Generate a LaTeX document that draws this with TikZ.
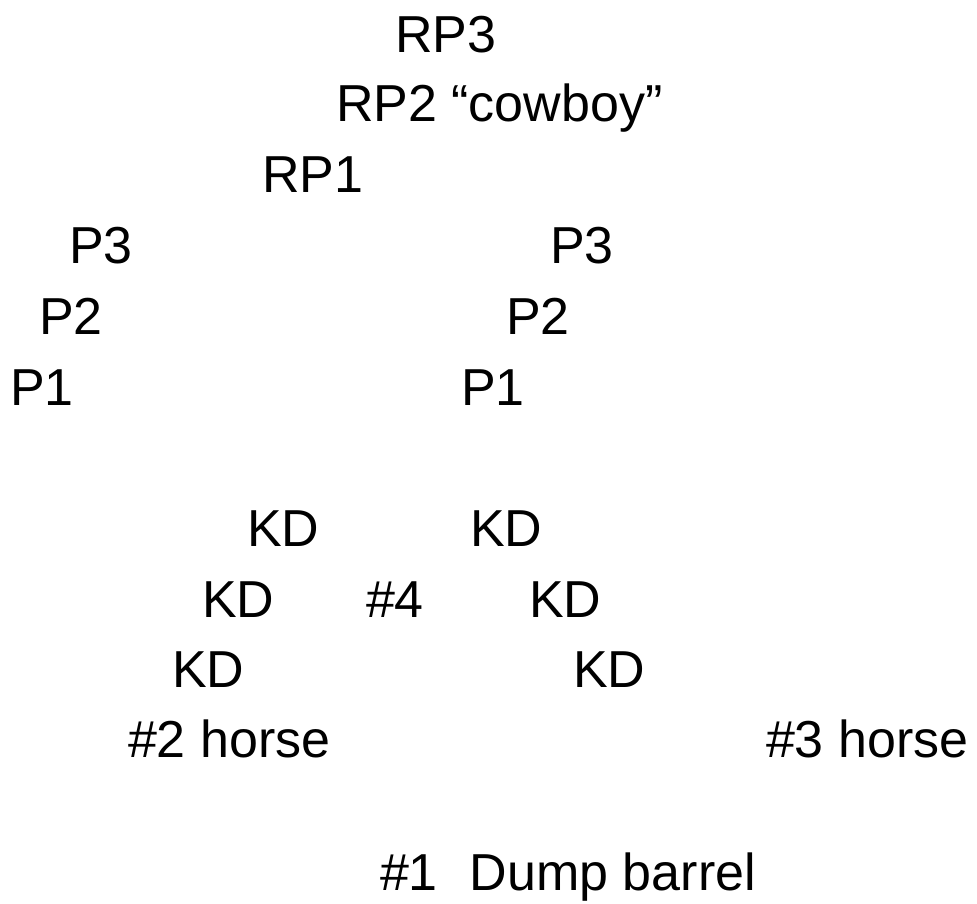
\documentclass[tikz,border=0pt]{standalone}
\usepackage{fontspec}
\setmainfont{Liberation Sans}
\begin{document}
\begin{tikzpicture}[x=1pt,y=-1pt,
  lbl/.style={anchor=base west,inner sep=0pt,outer sep=0pt,font=\fontsize{52}{60}\selectfont,text=black}]
\useasboundingbox[fill=white] (0,0) rectangle (977,904);
\node[lbl] (rp3) at (395,53) {RP3};
\node[lbl] (rp2) at (336,122) {RP2 “cowboy”};
\node[lbl] (rp1) at (262,193) {RP1};
\node[lbl] (lp3) at (69,263) {P3};
\node[lbl] (rpp3) at (550,263) {P3};
\node[lbl] (lp2) at (39,334) {P2};
\node[lbl] (rpp2) at (506,334) {P2};
\node[lbl] (lp1) at (10,405) {P1};
\node[lbl] (rpp1) at (461,405) {P1};
\node[lbl] (kd1) at (247,546) {KD};
\node[lbl] (kd2) at (470,546) {KD};
\node[lbl] (kd3) at (202,617) {KD};
\node[lbl] (n4) at (366,617) {\#4};
\node[lbl] (kd4) at (529,617) {KD};
\node[lbl] (kd5) at (172,687) {KD};
\node[lbl] (kd6) at (573,687) {KD};
\node[lbl] (h2) at (128,757) {\#2 horse};
\node[lbl] (h3) at (766,757) {\#3 horse};
\node[lbl] (b1) at (380,890) {\#1\hspace{32pt}Dump barrel};
\end{tikzpicture}
\end{document}
